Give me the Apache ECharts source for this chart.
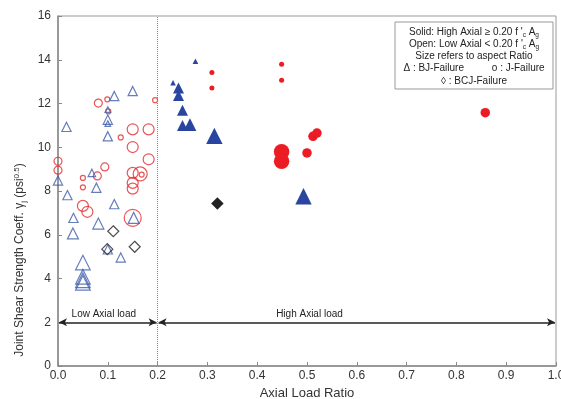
<!DOCTYPE html>
<html>
<head>
<meta charset="utf-8">
<script src="https://cdn.jsdelivr.net/npm/echarts@6/dist/echarts.min.js"></script>
<style>
  html, body { margin: 0; padding: 0; background: #fff; }
  #chart { width: 561px; height: 399px; }
</style>
</head>
<body>
<div id="chart"></div>
<script>
  // [axial load ratio, joint shear coeff, aspect size class]
  var lowJ = [
    [0.000, 9.36, 2], [0.000, 8.95, 2], [0.081, 12.02, 2], [0.099, 12.19, 1],
    [0.101, 11.64, 1], [0.195, 12.15, 1], [0.126, 10.45, 1], [0.150, 10.82, 3],
    [0.182, 10.82, 3], [0.150, 10.01, 3], [0.182, 9.45, 3], [0.094, 9.10, 2],
    [0.079, 8.69, 2], [0.050, 8.60, 1], [0.050, 8.17, 1], [0.150, 8.83, 3],
    [0.150, 8.37, 3], [0.150, 8.11, 3], [0.165, 8.78, 4], [0.168, 8.75, 1],
    [0.050, 7.32, 3], [0.059, 7.05, 3], [0.150, 6.77, 5]
  ]
  var lowBJ = [
    [0.017, 10.93, 2], [0.113, 12.34, 2], [0.150, 12.57, 2], [0.100, 11.72, 1],
    [0.100, 11.26, 2], [0.100, 11.08, 1], [0.100, 10.50, 2], [0.000, 8.48, 2],
    [0.068, 8.83, 1.5], [0.077, 8.15, 2], [0.019, 7.81, 2], [0.113, 7.40, 2],
    [0.031, 6.77, 2], [0.030, 6.06, 2.5], [0.081, 6.51, 2.5], [0.152, 6.77, 2.5],
    [0.100, 5.33, 2], [0.126, 4.96, 2], [0.050, 4.73, 3.5], [0.050, 4.08, 3.5],
    [0.050, 3.92, 3.5], [0.050, 3.80, 3.5]
  ]
  var lowBCJ = [[0.111, 6.16, 3], [0.099, 5.34, 3], [0.154, 5.45, 3]]
  var highBJ = [
    [0.276, 13.93, 1], [0.231, 12.95, 1], [0.242, 12.71, 2.5], [0.242, 12.37, 2.5],
    [0.250, 11.69, 2.5], [0.250, 11.00, 2.5], [0.265, 11.03, 3], [0.314, 10.52, 4],
    [0.493, 7.76, 4]
  ]
  var highJ = [
    [0.309, 13.42, 1], [0.309, 12.71, 1], [0.449, 13.79, 1], [0.449, 13.06, 1],
    [0.449, 9.79, 4.5], [0.449, 9.36, 4.5], [0.500, 9.74, 2.5], [0.512, 10.50, 2.5],
    [0.520, 10.65, 2.5], [0.858, 11.58, 2.5]
  ]
  var highBCJ = [[0.320, 7.43, 3.5]]

  var zoneLimit = 0.2
  var arrowY = 2
  var zoneLabels = [['Low Axial load', 0.092], ['High Axial load', 0.505]]
  var legendLines = [
    "Solid: High Axial ≥ 0.20 f '{s|c} A{s|g}",
    "Open: Low Axial < 0.20 f '{s|c} A{s|g}",
    'Size refers to aspect Ratio',
    'Δ : BJ-Failure          o : J-Failure',
    '◊ : BCJ-Failure'
  ]

  var font = 'Liberation Sans, Arial, sans-serif'
  var red = '#e42a2e'
  var blue = '#2846a0'
  var dark = '#222'

  var circleSize = function (d) { return 2 + 3 * d[2] }
  var triSize = function (d) { return 2 + 3.6 * d[2] }

  function openSeries(name, data, symbol, color, size) {
    return {
      name: name, type: 'scatter', data: data, symbol: symbol, symbolSize: size,
      itemStyle: { color: 'rgba(0,0,0,0)', borderColor: color, borderWidth: 1.2 }
    }
  }
  function solidSeries(name, data, symbol, color, size) {
    return {
      name: name, type: 'scatter', data: data, symbol: symbol, symbolSize: size,
      itemStyle: { color: color, opacity: 1 }
    }
  }

  var myChart = echarts.init(document.getElementById('chart'))

  var graphics = [{
    type: 'rect', shape: { x: 395, y: 22, width: 158, height: 67 },
    style: { fill: '#fff', stroke: '#999', lineWidth: 1 }
  }]
  legendLines.forEach(function (t, i) {
    graphics.push({
      type: 'text', x: 474, y: 32 + i * 12.2,
      style: {
        text: t, fill: dark, fontSize: 10, fontFamily: font,
        align: 'center', verticalAlign: 'middle',
        rich: { s: { fontSize: 6.5, fontFamily: font, fill: dark, padding: [7, 0, 0, 0] } }
      }
    })
  })
  graphics.push({
    type: 'text', x: 20, y: 260, rotation: Math.PI / 2,
    style: {
      text: 'Joint Shear Strength Coeff. γ{s|j} (psi{p|0.5})', fill: '#333',
      fontSize: 12, fontFamily: font, align: 'center', verticalAlign: 'middle',
      rich: {
        s: { fontSize: 8, fontFamily: font, fill: '#333', padding: [8, 0, 0, 0] },
        p: { fontSize: 8, fontFamily: font, fill: '#333', padding: [0, 0, 7, 0] }
      }
    }
  })

  var option = {
    animation: false,
    backgroundColor: '#fff',
    grid: {
      left: 58, right: 5, top: 16, bottom: 33, outerBoundsMode: 'none',
      show: true, borderColor: '#999', borderWidth: 1
    },
    xAxis: {
      type: 'value', min: 0, max: 1, interval: 0.1,
      name: 'Axial Load Ratio', nameLocation: 'middle', nameGap: 21,
      nameTextStyle: { fontSize: 13, color: '#333', fontFamily: font },
      axisLine: { lineStyle: { color: '#888', width: 1.5 } },
      axisTick: { inside: true, length: 4, lineStyle: { color: '#888' } },
      axisLabel: { fontSize: 12, color: '#333', margin: 4, fontFamily: font, formatter: function (v) { return v.toFixed(1) } },
      splitLine: { show: false }
    },
    yAxis: {
      type: 'value', min: 0, max: 16, interval: 2,
      axisLine: { show: true, lineStyle: { color: '#888', width: 1.5 } },
      axisTick: { show: true, inside: true, length: 4, lineStyle: { color: '#888' } },
      axisLabel: { fontSize: 12, color: '#333', margin: 7, fontFamily: font },
      splitLine: { show: false }
    },
    graphic: graphics,
    series: [
      {
        type: 'scatter', data: [], silent: true,
        markLine: {
          silent: true, symbol: 'none', label: { show: false },
          lineStyle: { type: 'dotted', color: '#888', width: 1 },
          data: [{ xAxis: zoneLimit }]
        }
      },
      {
        type: 'scatter', data: [], silent: true,
        markLine: {
          silent: true, symbol: ['arrow', 'arrow'], symbolSize: [6, 8],
          label: { show: false },
          lineStyle: { type: 'solid', color: dark, width: 1.5 },
          data: [
            [{ coord: [0.002, arrowY] }, { coord: [zoneLimit - 0.002, arrowY] }],
            [{ coord: [zoneLimit + 0.002, arrowY] }, { coord: [0.998, arrowY] }]
          ]
        },
        markPoint: {
          silent: true, symbolSize: 0,
          label: { show: true, formatter: '{b}', color: dark, fontSize: 10, fontFamily: font },
          data: zoneLabels.map(function (z) { return { name: z[0], coord: [z[1], arrowY + 0.38] } })
        }
      },
      openSeries('lowJ', lowJ, 'circle', red, circleSize),
      openSeries('lowBJ', lowBJ, 'triangle', '#3f5caa', triSize),
      openSeries('lowBCJ', lowBCJ, 'diamond', dark, circleSize),
      solidSeries('highBJ', highBJ, 'triangle', blue, triSize),
      solidSeries('highJ', highJ, 'circle', '#ec1c24', circleSize),
      solidSeries('highBCJ', highBCJ, 'diamond', dark, circleSize)
    ]
  }

  myChart.setOption(option)
</script>
</body>
</html>
